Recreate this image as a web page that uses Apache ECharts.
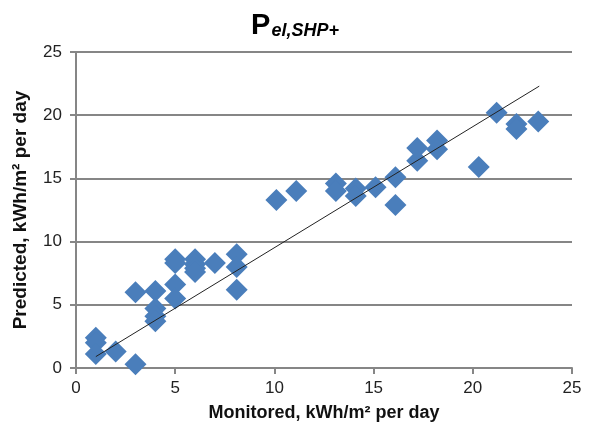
<!DOCTYPE html>
<html><head><meta charset="utf-8">
<script src="https://cdn.jsdelivr.net/npm/echarts@6/dist/echarts.min.js"></script>
<style>html,body{margin:0;padding:0;background:#fff}#c{width:590px;height:430px}</style>
</head><body><div id="c"></div>
<script>
var monitored = [1.0,1.0,1.0,2.0,3.0,3.0,4.0,4.0,4.0,4.0,5.0,5.0,5.0,5.0,6.0,6.0,6.0,6.0,7.0,8.1,8.1,8.1,10.1,11.1,13.1,13.1,14.1,14.1,15.1,16.1,16.1,17.2,17.2,18.2,18.2,20.3,21.2,22.2,22.2,23.3];
var predicted = [2.4,2.0,1.1,1.3,0.3,6.0,6.1,4.7,4.1,3.7,8.6,8.3,6.6,5.5,8.6,8.2,7.9,7.6,8.3,9.0,8.0,6.2,13.3,14.0,14.6,14.0,14.2,13.6,14.3,15.1,12.9,17.4,16.4,18.0,17.3,15.9,20.2,19.3,18.9,19.5];
var trendX = [1.0, 23.35];
var trendY = [0.9, 22.3];
var xTicks = [0,5,10,15,20,25];
var yTicks = [0,5,10,15,20,25];

var pts = monitored.map(function(x,i){return [x, predicted[i]];});
var trend = trendX.map(function(x,i){return [x, trendY[i]];});
var chart = echarts.init(document.getElementById('c'));
var ff = '"Liberation Sans", "DejaVu Sans", sans-serif';
chart.setOption({
  animation:false,
  title:{
    text:'{p|P}{s|el,SHP+}',
    left:'center', top:6,
    textStyle:{rich:{
      p:{fontSize:29,fontWeight:'bold',fontFamily:ff,color:'#000',verticalAlign:'bottom'},
      s:{fontSize:18,fontWeight:'bold',fontStyle:'italic',fontFamily:ff,color:'#000',verticalAlign:'bottom',padding:[0,0,0,1]}
    }}
  },
  grid:{left:76,right:18,top:52,bottom:62},
  xAxis:{
    type:'value',min:xTicks[0],max:xTicks[xTicks.length-1],interval:5,
    name:'Monitored, kWh/m² per day',nameLocation:'middle',nameGap:36,
    nameTextStyle:{fontSize:18,fontWeight:'bold',fontFamily:ff,color:'#111'},
    axisLine:{show:true,lineStyle:{color:'#868686',width:2}},
    axisTick:{show:true,length:6,lineStyle:{color:'#868686',width:2}},
    axisLabel:{fontSize:17,fontFamily:ff,color:'#222',margin:12},
    splitLine:{show:false}
  },
  yAxis:{
    type:'value',min:yTicks[0],max:yTicks[yTicks.length-1],interval:5,
    name:'Predicted, kWh/m² per day',nameLocation:'middle',nameGap:46,
    nameTextStyle:{fontSize:19,fontWeight:'bold',fontFamily:ff,color:'#111'},
    axisLine:{show:true,lineStyle:{color:'#868686',width:2}},
    axisTick:{show:true,length:6,lineStyle:{color:'#868686',width:2}},
    axisLabel:{fontSize:17,fontFamily:ff,color:'#222',margin:14},
    splitLine:{show:true,lineStyle:{color:'#868686',width:2}}
  },
  series:[
    {type:'scatter',data:pts,symbol:'diamond',symbolSize:22,
     itemStyle:{color:'#4a7ebb',opacity:1},z:2},
    {type:'line',data:trend,symbol:'none',lineStyle:{color:'#222',width:1},z:3}
  ]
});
</script></body></html>
